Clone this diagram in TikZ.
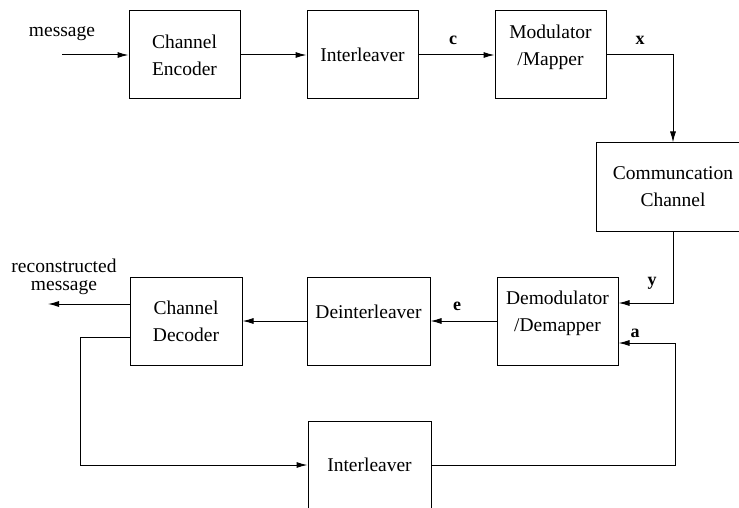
\documentclass[tikz,border=0pt]{standalone}
\usepackage{fontspec}
\setmainfont{Liberation Serif}
\usetikzlibrary{arrows.meta}
\begin{document}
\begin{tikzpicture}[x=1pt,y=-1pt,
  blk/.style={draw,line width=1pt,minimum height=88pt,align=center,inner sep=0pt,
    font=\fontsize{19.5}{27}\selectfont},
  conn/.style={line width=1pt,-{Latex[length=11pt,width=6pt]}},
  sig/.style={font=\fontsize{18}{20}\selectfont\bfseries},
  txt/.style={font=\fontsize{19.5}{18.5}\selectfont,align=center}]
\useasboundingbox (0,0) rectangle (739,508);
\begin{scope}
\clip (0,0) rectangle (739,508);
% transmitter chain
\node[blk,minimum width=111pt] (enc) at (184.5,55) {Channel\\Encoder};
\node[blk,minimum width=111pt] (il1) at (362.5,55) {Interleaver};
\node[blk,minimum width=111pt] (mod) at (550.5,55) {Modulator\\/Mapper\\[-16pt]\strut};
\node[blk,minimum width=154pt] (chan) at (673,187) {Communcation\\Channel};
% receiver chain
\node[blk,minimum width=121pt] (dem) at (557.5,321) {Demodulator\\/Demapper\\[-16pt]\strut};
\node[blk,minimum width=123pt] (deil) at (368.5,321) {Deinterleaver\\[-16pt]\strut};
\node[blk,minimum width=112pt] (dec) at (186,321) {Channel\\Decoder};
\node[blk,minimum width=123pt] (il2) at (369.5,465) {Interleaver};
% free ends
\coordinate (src) at (62,55);
\coordinate (snk) at (48,304);
% text labels
\node[txt] (msg) at (62,34) {message};
\node[txt] (rmsg) at (64,277) {reconstructed\\message};
\node[sig] (lc) at (453,40) {c};
\node[sig] (lx) at (640,40) {x};
\node[sig] (ly) at (652,283) {y};
\node[sig] (la) at (635,333) {a};
\node[sig] (le) at (457,306) {e};
% connectors
\draw[conn] (src) -- (enc.west);
\draw[conn] (enc.east) -- (il1.west);
\draw[conn] (il1.east) -- (mod.west);
\draw[conn] (mod.east) -| (chan.north);
\draw[conn] (chan.south) |- ([yshift=18pt]dem.east);
\draw[conn] (dem.west) -- (deil.east);
\draw[conn] (deil.west) -- (dec.east);
\draw[conn] ([yshift=17pt]dec.west) -- (snk);
\draw[conn] ([yshift=-16pt]dec.west) -- ++(-49,0) |- (il2.west);
\draw[conn] (il2.east) -| ([xshift=57pt,yshift=-22pt]dem.east) -- ([yshift=-22pt]dem.east);
\end{scope}
\end{tikzpicture}
\end{document}
